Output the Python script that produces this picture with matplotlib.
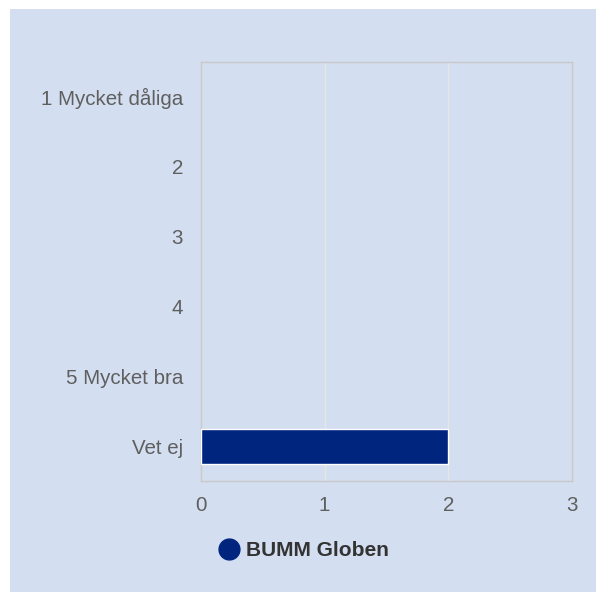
import matplotlib.pyplot as plt
from matplotlib.lines import Line2D

categories = ["1 Mycket dåliga", "2", "3", "4", "5 Mycket bra", "Vet ej"]
values = [0, 0, 0, 0, 0, 2]
series_name = "BUMM Globen"
xticks = [0, 1, 2, 3]

bg = "#D3DEF0"
bar_color = "#00257F"
text_gray = "#5F5F5F"

plt.rcParams['font.family'] = ['Liberation Sans', 'DejaVu Sans']

fig = plt.figure(figsize=(5.96, 5.92), dpi=100)
fig.patch.set_facecolor("white")
# blue panel (white strip left and top)
fig.patches.append(plt.Rectangle((10 / 596, 0), 1, 1 - 9 / 592, transform=fig.transFigure,
                                 facecolor=bg, edgecolor="none", zorder=-10))

ax = fig.add_axes([201 / 596, 1 - 481 / 592, 371 / 596, 419 / 592])
ax.set_facecolor(bg)

y = list(range(len(categories)))
edges = ["white" if v > 0 else "none" for v in values]
ax.barh(y, values, height=0.5, color=bar_color, edgecolor=edges, linewidth=1, zorder=3)

ax.set_xlim(0, 3)
ax.set_ylim(len(categories) - 0.5, -0.5)
ax.set_xticks(xticks)
ax.set_yticks(y)
ax.set_yticklabels(categories)
ax.tick_params(length=0, labelsize=14.8, colors=text_gray, pad=13)
ax.tick_params(axis="x", pad=11)
ax.grid(axis="x", color="#E6E6E6", linewidth=1, zorder=1)
for s in ax.spines.values():
    s.set_color("#C9C9C9")
    s.set_linewidth(1)

handle = Line2D([], [], marker="o", linestyle="none", markersize=15,
                markerfacecolor=bar_color, markeredgecolor=bar_color)
leg = fig.legend([handle], [series_name], loc="center left",
                 bbox_to_anchor=(189 / 596, 1 - 551 / 592), frameon=False,
                 handletextpad=-0.15, prop={"weight": "bold", "size": 15})
for t in leg.get_texts():
    t.set_color("#333333")

fig.savefig("out.png", dpi=100, facecolor=fig.get_facecolor())
